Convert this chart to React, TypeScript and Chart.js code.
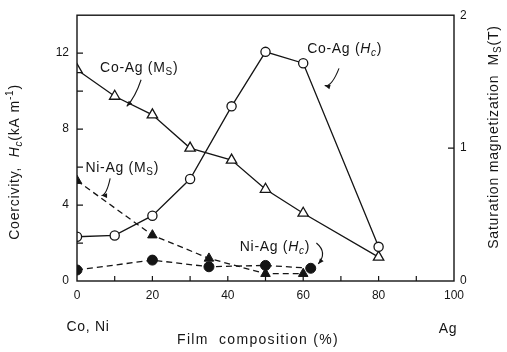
import React, { useEffect, useRef } from "react";
import { Chart, registerables } from "chart.js";

Chart.register(...registerables);

// ---- data ----
const coAgX = [0, 10, 20, 30, 41, 50, 60, 80];
const coAgHc = [2.33, 2.4, 3.44, 5.37, 9.2, 12.07, 11.47, 1.8];
const coAgMs = [1.59, 1.39, 1.25, 1.0, 0.91, 0.69, 0.51, 0.18];
const niAgMsX = [0, 20, 35, 50, 60];
const niAgMs = [0.755, 0.345, 0.17, 0.055, 0.055];
const niAgHcX = [0, 20, 35, 50, 62];
const niAgHc = [0.58, 1.1, 0.75, 0.82, 0.67];
const xTickLabels = [0, 20, 40, 60, 80, 100];
const yTickLabels = [0, 4, 8, 12];
const y1TickLabels = [0, 1, 2];

const FONT = "'Liberation Sans', Arial, sans-serif";
const INK = "#151515";

type Seg = { t: string; it?: boolean; sub?: boolean; sup?: boolean };

function segFont(s: Seg, size: number) {
  const sz = s.sub || s.sup ? Math.round(size * 0.72) : size;
  return `${s.it ? "italic " : ""}${sz}px ${FONT}`;
}

function richWidth(ctx: CanvasRenderingContext2D, segs: Seg[], size: number) {
  let w = 0;
  for (const s of segs) {
    ctx.font = segFont(s, size);
    w += ctx.measureText(s.t).width;
  }
  return w;
}

function drawRich(ctx: CanvasRenderingContext2D, segs: Seg[], cx: number, cy: number, size: number, spacing = 0) {
  (ctx as any).letterSpacing = `${spacing}px`;
  const total = richWidth(ctx, segs, size);
  let x = cx - total / 2;
  ctx.textBaseline = "middle";
  ctx.textAlign = "left";
  ctx.fillStyle = INK;
  for (const s of segs) {
    ctx.font = segFont(s, size);
    const dy = s.sub ? size * 0.3 : s.sup ? -size * 0.35 : 0;
    ctx.fillText(s.t, x, cy + dy);
    x += ctx.measureText(s.t).width;
  }
  (ctx as any).letterSpacing = "0px";
}

function arrowHead(ctx: CanvasRenderingContext2D, x: number, y: number, ang: number) {
  const L = 6;
  ctx.beginPath();
  ctx.moveTo(x, y);
  ctx.lineTo(x - L * Math.cos(ang - 0.4), y - L * Math.sin(ang - 0.4));
  ctx.lineTo(x - L * Math.cos(ang + 0.4), y - L * Math.sin(ang + 0.4));
  ctx.closePath();
  ctx.fill();
}

const decorPlugin = {
  id: "decor",
  afterDraw(chart: any) {
    const ctx: CanvasRenderingContext2D = chart.ctx;
    const xs = chart.scales.x;
    const ys = chart.scales.y;
    const y1 = chart.scales.y1;
    const { left, right, top, bottom } = chart.chartArea;
    ctx.save();
    ctx.strokeStyle = INK;
    ctx.fillStyle = INK;
    ctx.lineWidth = 1.4;
    // frame
    ctx.strokeRect(left, top, right - left, bottom - top);
    // inward ticks
    ctx.lineWidth = 1.2;
    ctx.beginPath();
    for (let v = 10; v < 100; v += 10) {
      const px = xs.getPixelForValue(v);
      ctx.moveTo(px, bottom);
      ctx.lineTo(px, bottom - 5);
    }
    for (let v = 2; v <= 12; v += 2) {
      const py = ys.getPixelForValue(v);
      ctx.moveTo(left, py);
      ctx.lineTo(left + 6, py);
    }
    {
      const py = y1.getPixelForValue(1);
      ctx.moveTo(right, py);
      ctx.lineTo(right - 6, py);
    }
    ctx.stroke();

    // annotations (positions in data coordinates)
    const P = (x: number, y: number) => [xs.getPixelForValue(x), ys.getPixelForValue(y)];
    const size = 14;
    const sp = 0.7;
    let [ax, ay] = P(16.5, 11.2);
    drawRich(ctx, [{ t: "Co-Ag (M" }, { t: "S", sub: true }, { t: ")" }], ax, ay, size, sp);
    [ax, ay] = P(71, 12.2);
    drawRich(ctx, [{ t: "Co-Ag (" }, { t: "H", it: true }, { t: "c", sub: true, it: true }, { t: ")" }], ax, ay, size, sp);
    [ax, ay] = P(12, 5.95);
    drawRich(ctx, [{ t: "Ni-Ag (M" }, { t: "S", sub: true }, { t: ")" }], ax, ay, size, sp);
    [ax, ay] = P(52.5, 1.8);
    drawRich(ctx, [{ t: "Ni-Ag (" }, { t: "H", it: true }, { t: "c", sub: true, it: true }, { t: ")" }], ax, ay, size, sp);

    // leader arrows
    ctx.lineWidth = 1.1;
    const leader = (a: number[], c: number[], b: number[]) => {
      ctx.beginPath();
      ctx.moveTo(a[0], a[1]);
      ctx.quadraticCurveTo(c[0], c[1], b[0], b[1]);
      ctx.stroke();
      arrowHead(ctx, b[0], b[1], Math.atan2(b[1] - c[1], b[0] - c[0]));
    };
    leader(P(17, 10.6), P(15.5, 9.7), P(13.2, 9.2));
    leader(P(69.5, 11.2), P(67.5, 10.2), P(65.7, 10.3));
    leader(P(8.8, 5.4), P(7.8, 4.5), P(6.5, 4.5));
    leader(P(63.5, 2.0), P(66.5, 1.5), P(64.0, 0.9));

    // axis titles
    ctx.save();
    ctx.translate(15, 162);
    ctx.rotate(-Math.PI / 2);
    drawRich(ctx, [{ t: "Coercivity,  " }, { t: "H", it: true }, { t: "c", sub: true, it: true }, { t: "(kA m" }, { t: "-1", sup: true }, { t: ")" }], 0, 0, 14, 0.8);
    ctx.restore();
    ctx.save();
    ctx.translate(494, 137);
    ctx.rotate(-Math.PI / 2);
    drawRich(ctx, [{ t: "Saturation magnetization  M" }, { t: "S", sub: true }, { t: "(T)" }], 0, 0, 14, 0.8);
    ctx.restore();
    drawRich(ctx, [{ t: "Film  composition (%)" }], 258, 340, 14, 1.3);
    drawRich(ctx, [{ t: "Co, Ni" }], 88, 327, 14, 0.7);
    drawRich(ctx, [{ t: "Ag" }], 448, 329, 14, 0.7);
    ctx.restore();
  },
};

export default function App() {
  const ref = useRef<HTMLCanvasElement>(null);
  useEffect(() => {
    if (!ref.current) return;
    const pts = (xsArr: number[], ysArr: number[]) => xsArr.map((x, i) => ({ x, y: ysArr[i] }));
    const chart = new Chart(ref.current, {
      type: "line",
      data: {
        datasets: [
          {
            label: "Co-Ag (Hc)",
            data: pts(coAgX, coAgHc),
            yAxisID: "y",
            borderColor: INK,
            borderWidth: 1.3,
            pointStyle: "circle",
            pointRadius: 4.6,
            pointBackgroundColor: "#ffffff",
            pointBorderColor: INK,
            pointBorderWidth: 1.3,
            tension: 0,
          },
          {
            label: "Co-Ag (Ms)",
            data: pts(coAgX, coAgMs),
            yAxisID: "y1",
            borderColor: INK,
            borderWidth: 1.3,
            pointStyle: "triangle",
            pointRadius: 6,
            pointBackgroundColor: "#ffffff",
            pointBorderColor: INK,
            pointBorderWidth: 1.3,
            tension: 0,
          },
          {
            label: "Ni-Ag (Ms)",
            data: pts(niAgMsX, niAgMs),
            yAxisID: "y1",
            borderColor: INK,
            borderWidth: 1.3,
            borderDash: [6, 4],
            pointStyle: "triangle",
            pointRadius: 5.5,
            pointBackgroundColor: INK,
            pointBorderColor: INK,
            pointBorderWidth: 1,
            tension: 0,
          },
          {
            label: "Ni-Ag (Hc)",
            data: pts(niAgHcX, niAgHc),
            yAxisID: "y",
            borderColor: INK,
            borderWidth: 1.3,
            borderDash: [6, 4],
            pointStyle: "circle",
            pointRadius: 5,
            pointBackgroundColor: INK,
            pointBorderColor: INK,
            pointBorderWidth: 1,
            tension: 0,
          },
        ],
      },
      options: {
        animation: false,
        responsive: false,
        layout: { padding: { top: 15, left: 0, right: 0, bottom: 0 } },
        plugins: { legend: { display: false }, tooltip: { enabled: false } },
        scales: {
          x: {
            type: "linear",
            min: 0,
            max: 100,
            grid: { display: false, drawTicks: false },
            border: { display: false },
            ticks: {
              stepSize: 20,
              padding: 7,
              maxRotation: 0,
              color: INK,
              font: { family: FONT, size: 12 },
              callback: (v: any) => (xTickLabels.includes(v) ? String(v) : ""),
            },
            afterFit: (s: any) => {
              s.height = 71;
            },
          },
          y: {
            type: "linear",
            position: "left",
            min: 0,
            max: 14,
            grid: { display: false, drawTicks: false },
            border: { display: false },
            ticks: {
              stepSize: 4,
              padding: 8,
              color: INK,
              font: { family: FONT, size: 12 },
              callback: (v: any) => (yTickLabels.includes(v) ? String(v) : ""),
            },
            afterFit: (s: any) => {
              s.width = 77;
            },
          },
          y1: {
            type: "linear",
            position: "right",
            min: 0,
            max: 2,
            grid: { display: false, drawTicks: false },
            border: { display: false },
            ticks: {
              stepSize: 1,
              padding: 6,
              color: INK,
              font: { family: FONT, size: 12 },
              callback: (v: any) => (y1TickLabels.includes(v) ? String(v) : ""),
            },
            afterFit: (s: any) => {
              s.width = 53;
            },
          },
        },
      },
      plugins: [decorPlugin],
    });
    return () => chart.destroy();
  }, []);
  return (
    <div style={{ position: "fixed", left: 0, top: 0, width: 507, height: 352, background: "#fff" }}>
      <canvas ref={ref} width={507} height={352} />
    </div>
  );
}
